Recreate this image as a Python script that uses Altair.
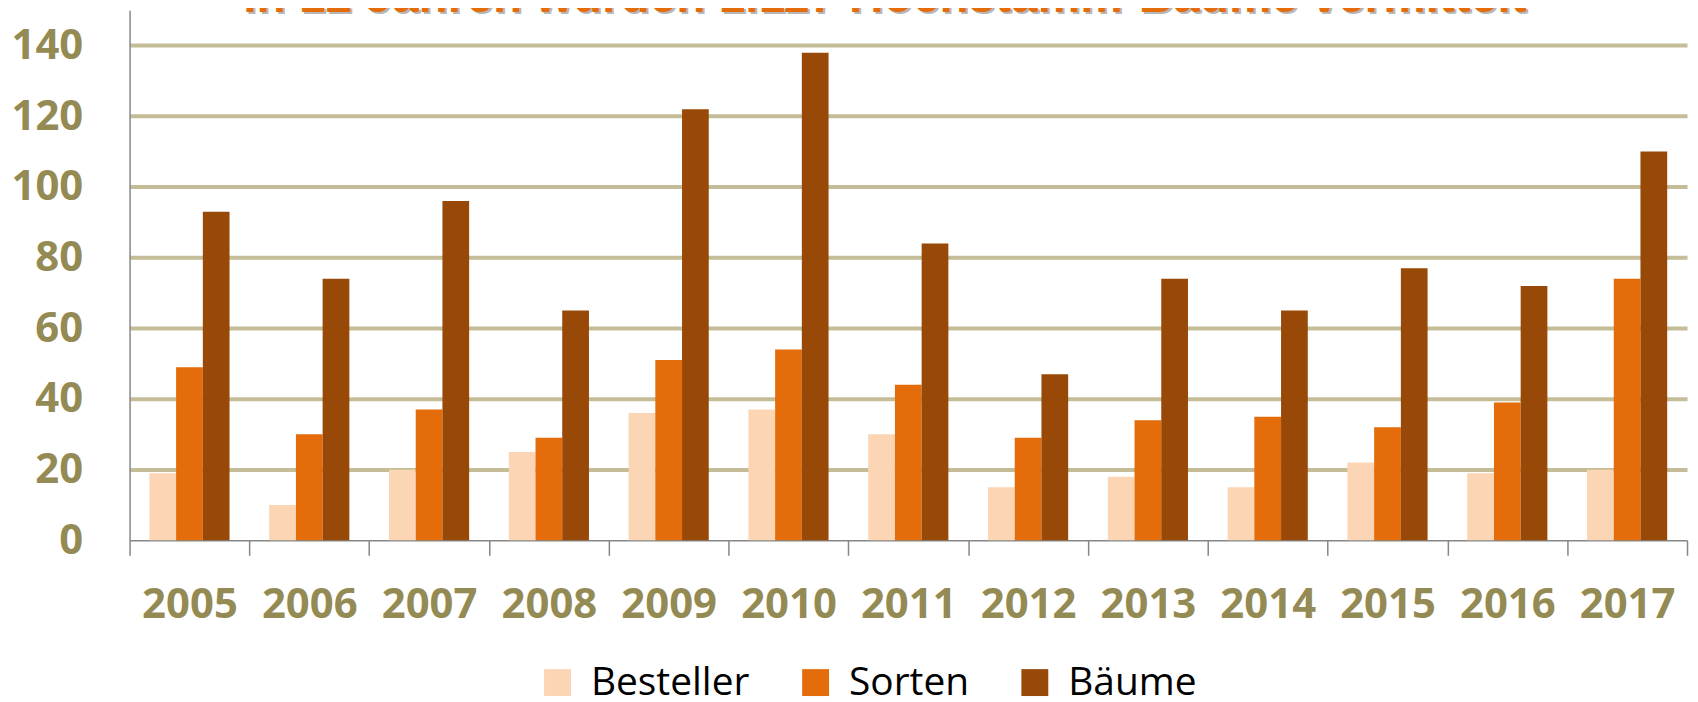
import altair as alt
import pandas as pd

years = ["2005", "2006", "2007", "2008", "2009", "2010", "2011",
         "2012", "2013", "2014", "2015", "2016", "2017"]
besteller = [19, 10, 20, 25, 36, 37, 30, 15, 18, 15, 22, 19, 20]
sorten = [49, 30, 37, 29, 51, 54, 44, 29, 34, 35, 32, 39, 74]
baeume = [93, 74, 96, 65, 122, 138, 84, 47, 74, 65, 77, 72, 110]
series = ["Besteller", "Sorten", "Bäume"]
colors = ["#FCD5B5", "#E46C0A", "#984807"]
title_text = "In 12 Jahren wurden 1.117 Hochstamm-Bäume vermittelt"

rows = []
for i, y in enumerate(years):
    for s, vals in zip(series, [besteller, sorten, baeume]):
        rows.append({"Jahr": y, "Reihe": s, "Wert": vals[i]})
df = pd.DataFrame(rows)

label_color = "#948A54"
axis_gray = "#868686"

bars = alt.Chart(df).mark_bar().encode(
    x=alt.X("Jahr:N", sort=years,
            scale=alt.Scale(paddingInner=0, paddingOuter=0),
            axis=alt.Axis(title=None, labelAngle=0, tickBand="extent",
                          domainColor=axis_gray, domainWidth=1.5,
                          tickColor=axis_gray, tickWidth=1.5, tickSize=15,
                          labelFont="Open Sans", labelFontWeight="bold",
                          labelFontSize=42, labelColor=label_color,
                          labelPadding=29, grid=False)),
    xOffset=alt.XOffset("Reihe:N", sort=series,
                        scale=alt.Scale(paddingOuter=0.742, paddingInner=0)),
    y=alt.Y("Wert:Q",
            scale=alt.Scale(domain=[0, 150], nice=False),
            axis=alt.Axis(title=None, values=[0, 20, 40, 60, 80, 100, 120, 140],
                          ticks=False, domainColor=axis_gray, domainWidth=1.5,
                          grid=True, gridWidth=4,
                          gridColor={"condition": {"test": "datum.value === 0",
                                                   "value": "transparent"},
                                     "value": "#C4BD97"},
                          labelFont="Open Sans", labelFontWeight="bold",
                          labelFontSize=42, labelColor=label_color,
                          labelPadding=47)),
    color=alt.Color("Reihe:N", sort=series,
                    scale=alt.Scale(domain=series, range=colors),
                    legend=alt.Legend(orient="none", legendX=410, legendY=655,
                                      direction="horizontal", title=None,
                                      symbolType="square", symbolSize=729,
                                      symbolStrokeWidth=0,
                                      labelFont="Open Sans", labelFontSize=39,
                                      labelColor="black", labelOffset=14,
                                      labelLimit=400, columnPadding=46,
                                      padding=0)),
)

tdf = pd.DataFrame({"t": [title_text]})
shadow = alt.Chart(tdf).mark_text(
    font="Liberation Sans", fontWeight="bold", fontSize=48,
    color="#9A9A9A", opacity=0.7, align="center", baseline="alphabetic",
    dx=2, dy=2
).encode(text="t:N", x=alt.value(758), y=alt.value(2))
title = alt.Chart(tdf).mark_text(
    font="Liberation Sans", fontWeight="bold", fontSize=48,
    color="#E46C0A", align="center", baseline="alphabetic"
).encode(text="t:N", x=alt.value(758), y=alt.value(2))

chart = alt.layer(bars, shadow, title).properties(
    width=1563, height=532,
    autosize=alt.AutoSizeParams(type="none"),
    padding={"left": 122, "top": 1, "right": 3, "bottom": 161},
).configure_view(stroke=None)

chart.save("out.html", embed_options={"renderer": "svg", "actions": False})
